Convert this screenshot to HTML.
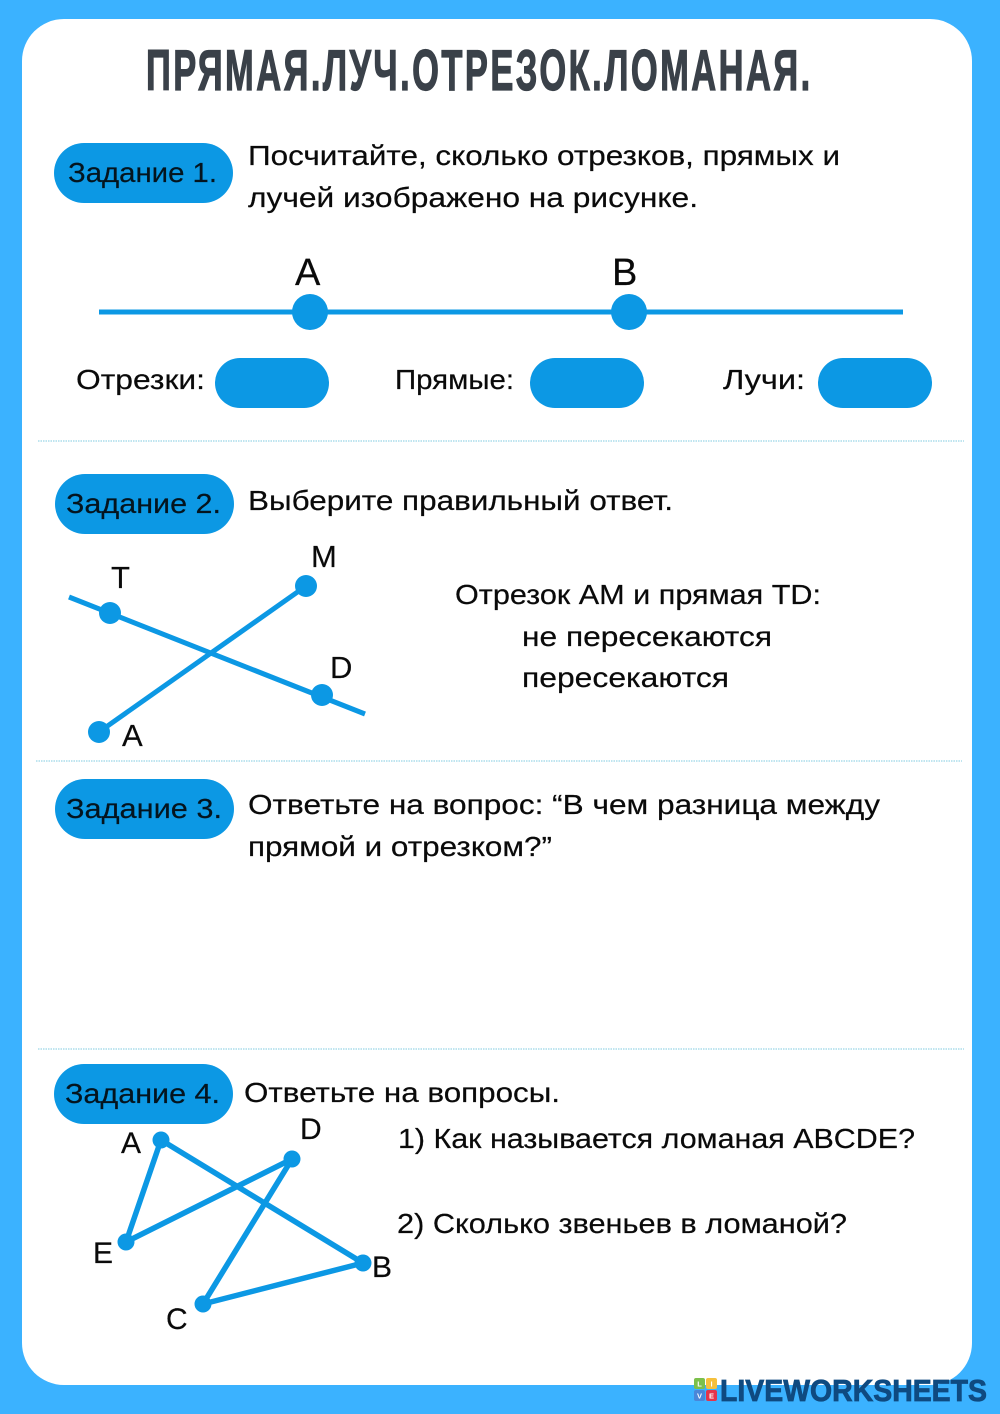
<!DOCTYPE html>
<html lang="ru"><head><meta charset="utf-8"><style>
html,body{margin:0;padding:0;background:#3bb2ff}
svg{display:block}
text{font-family:"Liberation Sans","DejaVu Sans",sans-serif;fill:#0a0a0a;font-size:27.5px;stroke:#0a0a0a;stroke-width:.2px}
.b{fill:#04141e;stroke:#04141e;font-size:28px}
.l{font-size:7.5px;font-weight:bold;fill:#fff;stroke:none;text-anchor:middle}
</style></head><body>
<svg width="1000" height="1414" viewBox="0 0 1000 1414" xmlns="http://www.w3.org/2000/svg">
<rect width="1000" height="1414" fill="#3bb2ff"/>
<rect x="22" y="19" width="950" height="1366" rx="42" fill="#fff"/>
<text transform="translate(146,90) scale(0.6,1)" x="0" y="0" textLength="1107" lengthAdjust="spacing" style="font-size:57.5px;font-weight:bold;fill:#3a4149;stroke:#3a4149;stroke-width:1.3px">ПРЯМАЯ.ЛУЧ.ОТРЕЗОК.ЛОМАНАЯ.</text>

<g fill="#0c98e4">
<rect x="54" y="143" width="179" height="60" rx="30"/>
<rect x="55" y="474" width="179" height="60" rx="30"/>
<rect x="55" y="779" width="179" height="60" rx="30"/>
<rect x="54" y="1064" width="179" height="60" rx="30"/>
<rect x="215" y="358" width="114" height="50" rx="25"/>
<rect x="530" y="358" width="114" height="50" rx="25"/>
<rect x="818" y="358" width="114" height="50" rx="25"/>
</g>
<text class="b" x="68" y="182" textLength="149" lengthAdjust="spacingAndGlyphs">Задание 1.</text>
<text class="b" x="66" y="513" textLength="155" lengthAdjust="spacingAndGlyphs">Задание 2.</text>
<text class="b" x="66" y="818" textLength="156" lengthAdjust="spacingAndGlyphs">Задание 3.</text>
<text class="b" x="65" y="1103" textLength="155" lengthAdjust="spacingAndGlyphs">Задание 4.</text>

<text x="248" y="165" textLength="592" lengthAdjust="spacingAndGlyphs">Посчитайте, сколько отрезков, прямых и</text>
<text x="248" y="207" textLength="450" lengthAdjust="spacingAndGlyphs">лучей изображено на рисунке.</text>

<line x1="99" y1="312" x2="903" y2="312" stroke="#0c98e4" stroke-width="5"/>
<circle cx="310" cy="312" r="18" fill="#0c98e4"/>
<circle cx="629" cy="312" r="18" fill="#0c98e4"/>
<text x="295" y="285" style="font-size:38px">A</text>
<text x="612" y="285" style="font-size:38px">B</text>
<text x="76" y="389" textLength="129" lengthAdjust="spacingAndGlyphs">Отрезки:</text>
<text x="395" y="389" textLength="119" lengthAdjust="spacingAndGlyphs">Прямые:</text>
<text x="723" y="389" textLength="82" lengthAdjust="spacingAndGlyphs">Лучи:</text>

<g stroke="#7fcbe0" stroke-width="1" stroke-dasharray="1.5 1">
<line x1="38" y1="441" x2="964" y2="441"/>
<line x1="36" y1="761" x2="962" y2="761"/>
<line x1="38" y1="1049" x2="964" y2="1049"/>
</g>

<text x="248" y="510" textLength="425" lengthAdjust="spacingAndGlyphs">Выберите правильный ответ.</text>
<line x1="69" y1="597" x2="365" y2="714" stroke="#0c98e4" stroke-width="5"/>
<line x1="99" y1="732" x2="306" y2="586" stroke="#0c98e4" stroke-width="5"/>
<g fill="#0c98e4">
<circle cx="110" cy="613" r="11"/><circle cx="322" cy="695" r="11"/>
<circle cx="306" cy="586" r="11"/><circle cx="99" cy="732" r="11"/>
</g>
<text x="111" y="588" style="font-size:31px">T</text>
<text x="311" y="567" style="font-size:31px">M</text>
<text x="330" y="678" style="font-size:31px">D</text>
<text x="122" y="746" style="font-size:31px">A</text>
<text x="455" y="604" textLength="366" lengthAdjust="spacingAndGlyphs">Отрезок AM и прямая TD:</text>
<text x="522" y="646" textLength="250" lengthAdjust="spacingAndGlyphs">не пересекаются</text>
<text x="522" y="687" textLength="207" lengthAdjust="spacingAndGlyphs">пересекаются</text>

<text x="248" y="814" textLength="632" lengthAdjust="spacingAndGlyphs">Ответьте на вопрос: “В чем разница между</text>
<text x="248" y="856" textLength="304" lengthAdjust="spacingAndGlyphs">прямой и отрезком?”</text>

<text x="244" y="1102" textLength="316" lengthAdjust="spacingAndGlyphs">Ответьте на вопросы.</text>
<polyline points="161,1140 363,1263 203,1304 292,1159 126,1242 161,1140" fill="none" stroke="#0c98e4" stroke-width="5.5" stroke-linejoin="round"/>
<g fill="#0c98e4">
<circle cx="161" cy="1140" r="8.5"/><circle cx="363" cy="1263" r="8.5"/>
<circle cx="203" cy="1304" r="8.5"/><circle cx="292" cy="1159" r="8.5"/>
<circle cx="126" cy="1242" r="8.5"/>
</g>
<text x="121" y="1153" style="font-size:30px">A</text>
<text x="300" y="1139" style="font-size:30px">D</text>
<text x="93" y="1263" style="font-size:30px">E</text>
<text x="372" y="1277" style="font-size:30px">B</text>
<text x="166" y="1329" style="font-size:30px">C</text>
<text x="398" y="1148" textLength="517" lengthAdjust="spacingAndGlyphs">1) Как называется ломаная ABCDE?</text>
<text x="397" y="1233" textLength="450" lengthAdjust="spacingAndGlyphs">2) Сколько звеньев в ломаной?</text>

<g>
<rect x="694" y="1378" width="11" height="11" rx="2" fill="#7cc04b"/>
<rect x="706" y="1378" width="11" height="11" rx="2" fill="#f5c03d"/>
<rect x="694" y="1390" width="11" height="11" rx="2" fill="#4a86d8"/>
<rect x="706" y="1390" width="11" height="11" rx="2" fill="#e5344a"/>
<text class="l" x="699.5" y="1386.5">L</text>
<text class="l" x="711.5" y="1386.5">I</text>
<text class="l" x="699.5" y="1398.5">V</text>
<text class="l" x="711.5" y="1398.5">E</text>
</g>
<text x="720" y="1401" textLength="267" lengthAdjust="spacingAndGlyphs" style="font-size:31px;font-weight:bold;fill:#0f4a80;stroke:#0f4a80;stroke-width:.8px">LIVEWORKSHEETS</text>
</svg>
</body></html>
